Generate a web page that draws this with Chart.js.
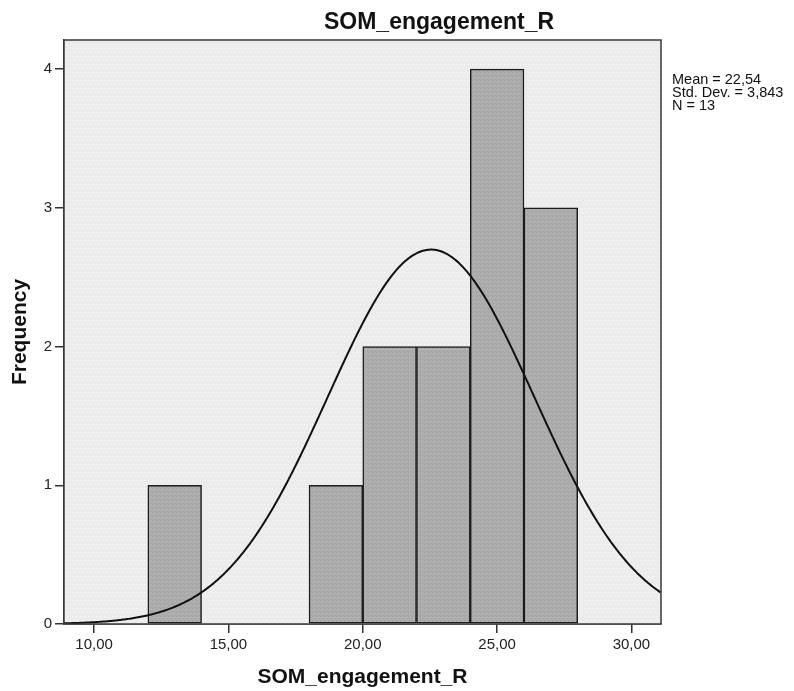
<!DOCTYPE html>
<html>
<head>
<meta charset="utf-8">
<script src="https://cdn.jsdelivr.net/npm/chart.js@4.4.1/dist/chart.umd.min.js"></script>
<style>
  html, body { margin: 0; padding: 0; background: #ffffff; }
  #wrap { width: 794px; height: 691px; position: relative; }
</style>
</head>
<body>
<div id="wrap"><canvas id="c" width="794" height="691"></canvas></div>
<script>
// Histogram of SOM_engagement_R with fitted normal curve
const chartTitle = 'SOM_engagement_R';
const xAxisTitle = 'SOM_engagement_R';
const yAxisTitle = 'Frequency';

const binStarts = [12, 18, 20, 22, 24, 26];
const binCounts = [1, 1, 2, 2, 4, 3];
const binWidth = 2;

const xTickValues = [10, 15, 20, 25, 30];
const yTickValues = [0, 1, 2, 3, 4];
const xRange = [8.88, 31.1];
const yRange = [0, 4.21];

const statMean = 22.54;
const statSD = 3.843;
const statN = 13;
const statLines = ['Mean = 22,54', 'Std. Dev. = 3,843', 'N = 13'];

const FONT = "'Liberation Sans', Arial, sans-serif";

const canvas = document.getElementById('c');
const ctx = canvas.getContext('2d');

// bar data: one bar per bin, centred in the bin
const barPoints = binStarts.map((s, i) => ({ x: s + binWidth / 2, y: binCounts[i] }));

// normal curve scaled to counts: N * binWidth * pdf(x)
const curvePoints = [];
for (let x = xRange[0]; x <= xRange[1] + 1e-9; x += 0.05) {
  const z = (x - statMean) / statSD;
  const y = statN * binWidth / (statSD * Math.sqrt(2 * Math.PI)) * Math.exp(-0.5 * z * z);
  curvePoints.push({ x: x, y: y });
}

// textures: light dotted panel, mottled grey bars
function makePattern(base, size, marks) {
  const c = document.createElement('canvas');
  c.width = size; c.height = size;
  const g = c.getContext('2d');
  g.fillStyle = base;
  g.fillRect(0, 0, size, size);
  marks.forEach(([x, y, col]) => { g.fillStyle = col; g.fillRect(x, y, 1, 1); });
  return ctx.createPattern(c, 'repeat');
}
const panelFill = makePattern('#ececec', 8, [
  [0, 0, '#fbfbfb'], [4, 0, '#f7f7f7'], [2, 4, '#fbfbfb'], [6, 4, '#f7f7f7']
]);
const barFill = makePattern('#acacac', 4, [
  [0, 0, '#a3a3a3'], [2, 1, '#b5b5b5'], [1, 2, '#b3b3b3'], [3, 3, '#a5a5a5'], [3, 0, '#b1b1b1'], [1, 3, '#a7a7a7']
]);

const panelPlugin = {
  id: 'panel',
  beforeDatasetsDraw(chart) {
    const a = chart.chartArea;
    const g = chart.ctx;
    g.save();
    g.fillStyle = panelFill;
    g.fillRect(a.left, a.top, a.right - a.left, a.bottom - a.top);
    g.restore();
  },
  afterDatasetsDraw(chart) {
    const a = chart.chartArea;
    const g = chart.ctx;
    g.save();
    g.strokeStyle = '#3a3a3a';
    g.lineWidth = 1.5;
    g.strokeRect(a.left, a.top, a.right - a.left, a.bottom - a.top);
    g.restore();
  }
};

const textPlugin = {
  id: 'texts',
  afterDraw(chart) {
    const g = chart.ctx;
    g.save();
    g.fillStyle = '#111111';
    g.textBaseline = 'alphabetic';
    g.textAlign = 'center';
    g.font = 'bold 23px ' + FONT;
    g.fillText(chartTitle, 439, 28.5);
    g.textAlign = 'left';
    g.font = '14.5px ' + FONT;
    statLines.forEach((t, i) => g.fillText(t, 672, 84 + i * 13));
    g.restore();
  }
};

const fmtComma = v => Number(v).toFixed(2).replace('.', ',');

new Chart(ctx, {
  type: 'bar',
  data: {
    datasets: [
      {
        type: 'line',
        data: curvePoints,
        borderColor: '#111111',
        borderWidth: 2,
        pointRadius: 0,
        tension: 0,
        fill: false,
        order: 0
      },
      {
        type: 'bar',
        data: barPoints,
        backgroundColor: barFill,
        borderColor: '#1c1c1c',
        borderWidth: 1.5,
        borderSkipped: false,
        barPercentage: 1,
        categoryPercentage: 1,
        order: 1
      }
    ]
  },
  options: {
    responsive: false,
    animation: false,
    devicePixelRatio: 1,
    layout: { padding: { left: 0, right: 133, top: 40, bottom: 0 } },
    plugins: {
      legend: { display: false },
      tooltip: { enabled: false },
      title: { display: false }
    },
    scales: {
      x: {
        type: 'linear',
        min: xRange[0],
        max: xRange[1],
        offset: false,
        grid: { display: true, drawOnChartArea: false, drawTicks: true, tickLength: 9, color: '#333333', lineWidth: 1.5, offset: false },
        border: { display: true, color: '#333333', width: 1.5 },
        afterBuildTicks: s => { s.ticks = xTickValues.map(v => ({ value: v })); },
        ticks: {
          callback: v => fmtComma(v),
          font: { family: FONT, size: 15 },
          color: '#222222',
          padding: 3,
          maxRotation: 0,
          autoSkip: false
        },
        title: {
          display: true,
          text: xAxisTitle,
          color: '#111111',
          font: { family: FONT, size: 21, weight: 'bold' },
          padding: { top: 0, bottom: 1 }
        },
        afterFit: s => { s.height = 67; }
      },
      y: {
        type: 'linear',
        min: yRange[0],
        max: yRange[1],
        grid: { display: true, drawOnChartArea: false, drawTicks: true, tickLength: 9, color: '#333333', lineWidth: 1.5 },
        border: { display: true, color: '#333333', width: 1.5 },
        afterBuildTicks: s => { s.ticks = yTickValues.map(v => ({ value: v })); },
        ticks: {
          callback: v => String(v),
          font: { family: FONT, size: 15 },
          color: '#222222',
          padding: 3,
          autoSkip: false
        },
        title: {
          display: true,
          text: yAxisTitle,
          color: '#111111',
          font: { family: FONT, size: 21, weight: 'bold' },
          padding: { top: 8, bottom: 0 }
        },
        afterFit: s => { s.width = 64; }
      }
    }
  },
  plugins: [panelPlugin, textPlugin]
});
</script>
</body>
</html>
